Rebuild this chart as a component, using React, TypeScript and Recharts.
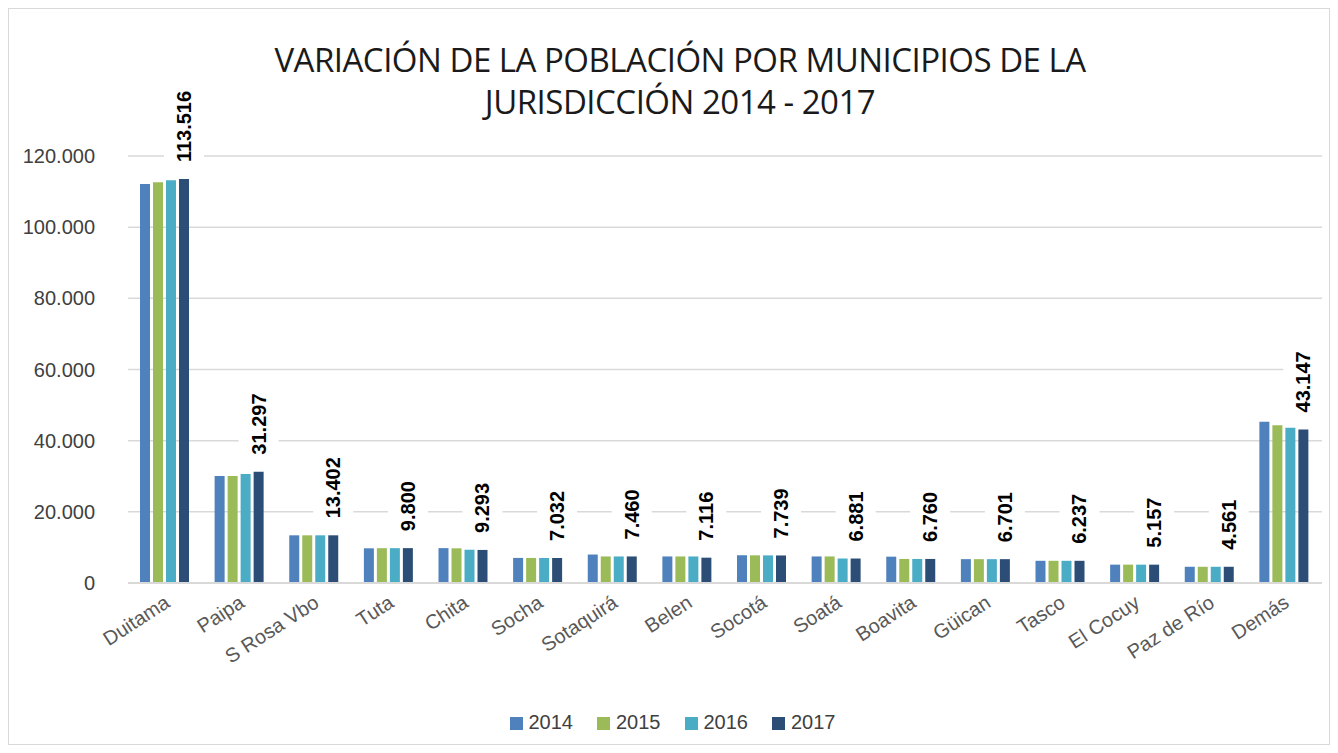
import { Bar, BarChart, CartesianGrid, LabelList, Legend, XAxis, YAxis } from 'recharts';

const municipios = [
  'Duitama', 'Paipa', 'S Rosa Vbo', 'Tuta', 'Chita', 'Socha', 'Sotaquirá', 'Belen',
  'Socotá', 'Soatá', 'Boavita', 'Güican', 'Tasco', 'El Cocuy', 'Paz de Río', 'Demás',
];
const pob2014 = [112100, 30100, 13400, 9750, 9800, 7050, 8000, 7460, 7800, 7460, 7400, 6700, 6240, 5160, 4560, 45300];
const pob2015 = [112650, 30100, 13400, 9780, 9750, 7040, 7460, 7460, 7780, 7460, 6760, 6700, 6240, 5160, 4560, 44300];
const pob2016 = [113200, 30600, 13400, 9790, 9350, 7035, 7460, 7460, 7760, 6881, 6760, 6701, 6237, 5157, 4561, 43600];
const pob2017 = [113516, 31297, 13402, 9800, 9293, 7032, 7460, 7116, 7739, 6881, 6760, 6701, 6237, 5157, 4561, 43147];
const yTicks = [0, 20000, 40000, 60000, 80000, 100000, 120000];

const data = municipios.map((m, i) => ({
  m,
  '2014': pob2014[i],
  '2015': pob2015[i],
  '2016': pob2016[i],
  '2017': pob2017[i],
}));

const fmt = (v: number) => String(v).replace(/\B(?=(\d{3})+(?!\d))/g, '.');

// rotated value label with a white box behind it (it hides the gridline like in Excel)
function ValueLabel(props: any) {
  const { x, y, width, value } = props;
  const cx = x + width / 2;
  const text = fmt(value);
  const len = text.length * 10.4;
  const base = y - 17;
  return (
    <g>
      <rect x={cx - 20} y={base - len - 4} width={40} height={len + 8} fill="#fff" />
      <text
        x={cx}
        y={base}
        transform={`rotate(-90 ${cx} ${base})`}
        textAnchor="start"
        dominantBaseline="central"
        fontFamily="Liberation Sans, Arial, sans-serif"
        fontWeight="bold"
        fontSize={20}
        fill="#000"
      >
        {text}
      </text>
    </g>
  );
}

function MunicipioTick({ x, y, payload }: any) {
  const ty = y + 9;
  return (
    <text
      x={x + 2}
      y={ty}
      transform={`rotate(-33 ${x + 2} ${ty})`}
      textAnchor="end"
      dominantBaseline="central"
      fontFamily="Liberation Sans, Arial, sans-serif"
      fontSize={20}
      fill="#595959"
    >
      {payload.value}
    </text>
  );
}

export default function App() {
  return (
    <div style={{ position: 'relative', width: 1320, height: 735, border: '1px solid #d9d9d9', background: '#fff' }}>
      <div
        style={{
          position: 'absolute',
          left: 0,
          width: 1342,
          top: 30,
          textAlign: 'center',
          fontFamily: 'Open Sans, sans-serif',
          fontSize: 33,
          lineHeight: '42px',
          color: '#1a1a1a',
          letterSpacing: -0.5,
        }}
      >
        VARIACIÓN DE LA POBLACIÓN POR MUNICIPIOS DE LA
        <br />
        JURISDICCIÓN 2014 - 2017
      </div>
      <BarChart
        width={1320}
        height={735}
        data={data}
        margin={{ top: 147, right: 7, left: 0, bottom: 3 }}
        barCategoryGap={12}
        barGap={3}
      >
        <CartesianGrid vertical={false} stroke="#d9d9d9" strokeWidth={1.5} />
        <XAxis
          dataKey="m"
          interval={0}
          height={128}
          tickLine={false}
          axisLine={{ stroke: '#d9d9d9', strokeWidth: 2 }}
          tick={<MunicipioTick />}
        />
        <YAxis
          width={119}
          domain={[0, 120000]}
          ticks={yTicks}
          tickFormatter={fmt}
          tickLine={false}
          axisLine={false}
          tickMargin={27}
          tick={{ fill: '#404040', fontSize: 20, fontFamily: 'Liberation Sans, Arial, sans-serif' }}
        />
        <Legend
          verticalAlign="bottom"
          iconType="square"
          iconSize={13}
          wrapperStyle={{ left: 19, height: 30, fontFamily: 'Liberation Sans, Arial, sans-serif', fontSize: 20 }}
          formatter={(v: string) => <span style={{ color: '#404040', marginLeft: 2, marginRight: 14 }}>{v}</span>}
        />
        <Bar dataKey="2014" fill="#4F81BD" isAnimationActive={false} />
        <Bar dataKey="2015" fill="#9BBB59" isAnimationActive={false} />
        <Bar dataKey="2016" fill="#4BACC6" isAnimationActive={false} />
        <Bar dataKey="2017" fill="#2C4D75" isAnimationActive={false}>
          <LabelList dataKey="2017" content={<ValueLabel />} />
        </Bar>
      </BarChart>
    </div>
  );
}
